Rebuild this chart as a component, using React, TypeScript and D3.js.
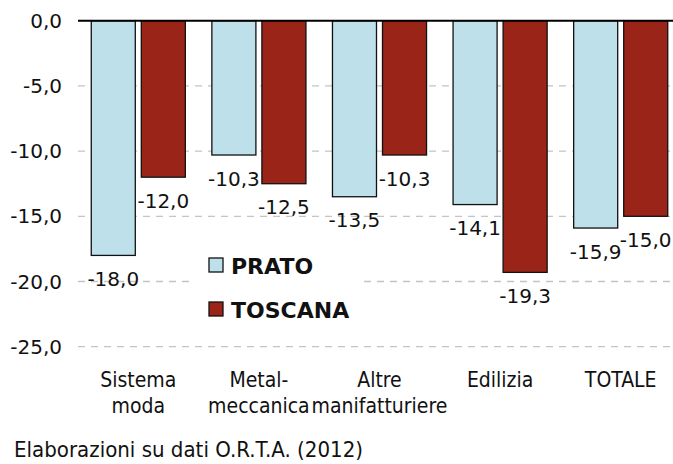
import React from 'react'
import * as d3 from 'd3'

const categories = ['Sistema moda', 'Metal-meccanica', 'Altre manifatturiere', 'Edilizia', 'TOTALE']
const categoryLines = [['Sistema', 'moda'], ['Metal-', 'meccanica'], ['Altre', 'manifatturiere'], ['Edilizia'], ['TOTALE']]
const series = ['PRATO', 'TOSCANA']
const prato = [-18.0, -10.3, -13.5, -14.1, -15.9]
const toscana = [-12.0, -12.5, -10.3, -19.3, -15.0]
const yTicks = [0, -5, -10, -15, -20, -25]
const note = 'Elaborazioni su dati O.R.T.A. (2012)'

const colors = { PRATO: '#bee0eb', TOSCANA: '#9b2419' }
const fmt = (v: number) => v.toFixed(1).replace('.', ',')

const width = 673
const height = 464
const margin = { top: 20.7, right: -8, bottom: 117.3, left: 78 }

const App = () => {
  const x0 = d3.scaleBand()
    .domain(categories)
    .range([margin.left, width - margin.right])
    .paddingInner(0.22)
    .paddingOuter(0.11)

  const x1 = d3.scaleBand()
    .domain(series)
    .range([0, x0.bandwidth()])
    .paddingInner(0.12)

  const y = d3.scaleLinear()
    .domain([0, -25])
    .range([margin.top, height - margin.bottom])

  const rows = categories.map((c, i) => ({ cat: c, PRATO: prato[i], TOSCANA: toscana[i] }))
  const label = { fontFamily: 'DejaVu Sans', fontSize: 20, fill: '#111' }
  const narrow = { fontFamily: 'DejaVu Sans Condensed, DejaVu Sans', fontSize: 21, fill: '#111' }

  return (
    <svg width={width} height={height} style={{ position: 'absolute', left: 0, top: 0, background: '#fff' }}>
      {/* grid */}
      {yTicks.filter(t => t !== 0).map(t => (
        <line key={t} x1={margin.left} x2={width} y1={y(t)} y2={y(t)}
          stroke="#c4c4c4" strokeWidth={1.3} strokeDasharray="7,6" />
      ))}
      {yTicks.map(t => (
        <text key={t} x={62} y={y(t)} textAnchor="end" dominantBaseline="central" {...label}>{fmt(t)}</text>
      ))}

      {/* bars */}
      {rows.map(r => (
        <g key={r.cat} transform={`translate(${x0(r.cat)},0)`}>
          {series.map(s => (
            <rect key={s} x={x1(s)} y={y(0)} width={x1.bandwidth()} height={y(r[s]) - y(0)}
              fill={colors[s]} stroke="#111" strokeWidth={1.3} />
          ))}
        </g>
      ))}
      <line x1={margin.left} x2={width} y1={y(0)} y2={y(0)} stroke="#000" strokeWidth={2} />

      {/* value labels */}
      {rows.map(r => series.map(s => (
        <text key={r.cat + s} x={x0(r.cat) + x1(s) + x1.bandwidth() / 2} y={y(r[s]) + 30.5}
          textAnchor="middle" {...label}>{fmt(r[s])}</text>
      )))}

      {/* legend */}
      <rect x={190} y={249} width={173} height={76} fill="#fff" />
      {series.map((s, i) => (
        <g key={s} transform={`translate(209,${258 + i * 44})`}>
          <rect width={14} height={14} fill={colors[s]} stroke="#111" strokeWidth={1.3} />
          <text x={22} y={15.5} fontFamily="DejaVu Sans" fontWeight="bold" fontSize={22} fill="#111">{s}</text>
        </g>
      ))}

      {/* category labels */}
      {categories.map((c, i) => (
        <text key={c} textAnchor="middle" {...narrow}>
          {categoryLines[i].map((l, j) => (
            <tspan key={j} x={x0(c) + x0.bandwidth() / 2} y={387 + j * 26}>{l}</tspan>
          ))}
        </text>
      ))}

      <text x={14} y={457} textLength={349} lengthAdjust="spacingAndGlyphs" {...narrow}>{note}</text>
    </svg>
  )
}

export default App
